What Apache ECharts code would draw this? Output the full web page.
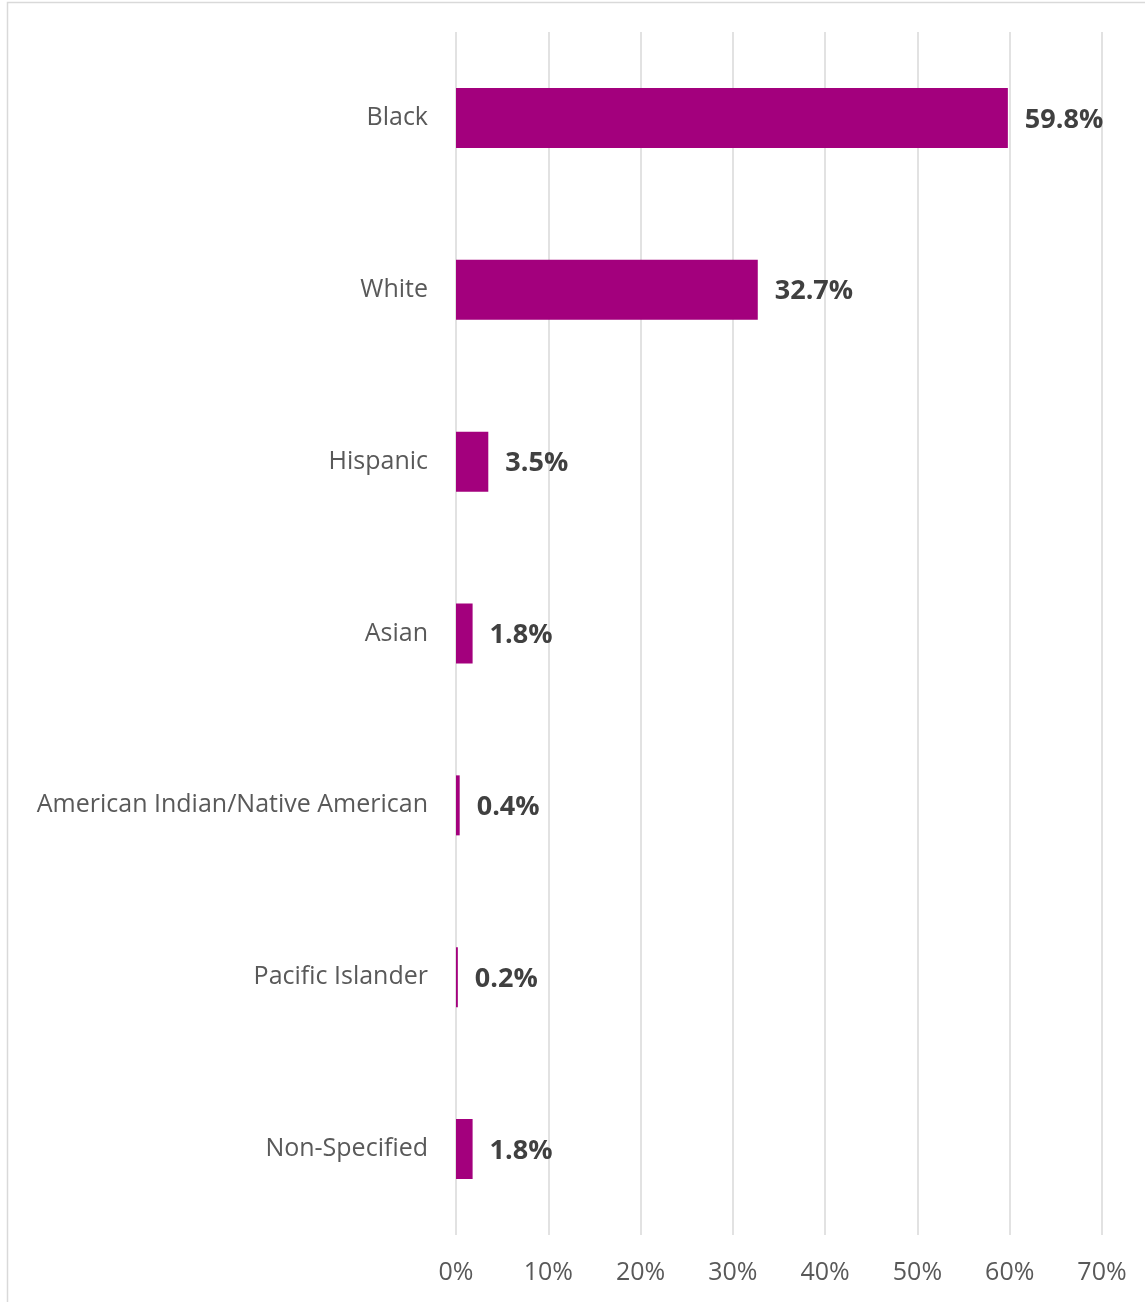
<!DOCTYPE html>
<html>
<head>
<meta charset="utf-8">
<script src="https://cdn.jsdelivr.net/npm/echarts@6/dist/echarts.min.js"></script>
<style>
  html, body { margin: 0; padding: 0; background: #ffffff; }
  #chart { width: 1145px; height: 1302px; }
</style>
</head>
<body>
<div id="chart"></div>
<script>
// Share of people by race / ethnicity (percent)
const categories = [
  'Black',
  'White',
  'Hispanic',
  'Asian',
  'American Indian/Native American',
  'Pacific Islander',
  'Non-Specified'
];
const shares = [59.8, 32.7, 3.5, 1.8, 0.4, 0.2, 1.8];
const axisTicks = [0, 10, 20, 30, 40, 50, 60, 70];

const chart = echarts.init(document.getElementById('chart'), null, { renderer: 'canvas' });

const FONT = '"Open Sans", "Noto Sans", sans-serif';

chart.setOption({
  backgroundColor: '#ffffff',
  animation: false,
  graphic: [{
    type: 'rect',
    shape: { x: 7.5, y: 2.5, width: 1300, height: 1400 },
    style: { fill: 'none', stroke: '#d9d9d9', lineWidth: 1.5 },
    silent: true
  }],
  grid: { left: 456, right: 43, top: 32, bottom: 67, containLabel: false },
  xAxis: {
    type: 'value',
    min: axisTicks[0],
    max: axisTicks[axisTicks.length - 1],
    interval: axisTicks[1] - axisTicks[0],
    axisLine: { show: false },
    axisTick: { show: false },
    splitLine: { show: true, lineStyle: { color: '#d9d9d9', width: 1.5 } },
    axisLabel: {
      color: '#595959',
      fontFamily: FONT,
      fontSize: 25,
      margin: 25,
      formatter: v => v + '%'
    }
  },
  yAxis: {
    type: 'category',
    data: categories,
    inverse: true,
    axisLine: { show: false },
    axisTick: { show: false },
    splitLine: { show: false },
    axisLabel: {
      color: '#595959',
      fontFamily: FONT,
      fontSize: 25,
      margin: 28,
      padding: [4, 0, 0, 0]
    }
  },
  series: [{
    type: 'bar',
    data: shares,
    barWidth: 60,
    itemStyle: { color: '#a3007d' },
    label: {
      show: true,
      position: 'right',
      distance: 17,
      offset: [0, 2],
      color: '#404040',
      fontFamily: FONT,
      fontSize: 27,
      fontWeight: 'bold',
      formatter: p => p.value.toFixed(1) + '%'
    }
  }]
});
</script>
</body>
</html>
